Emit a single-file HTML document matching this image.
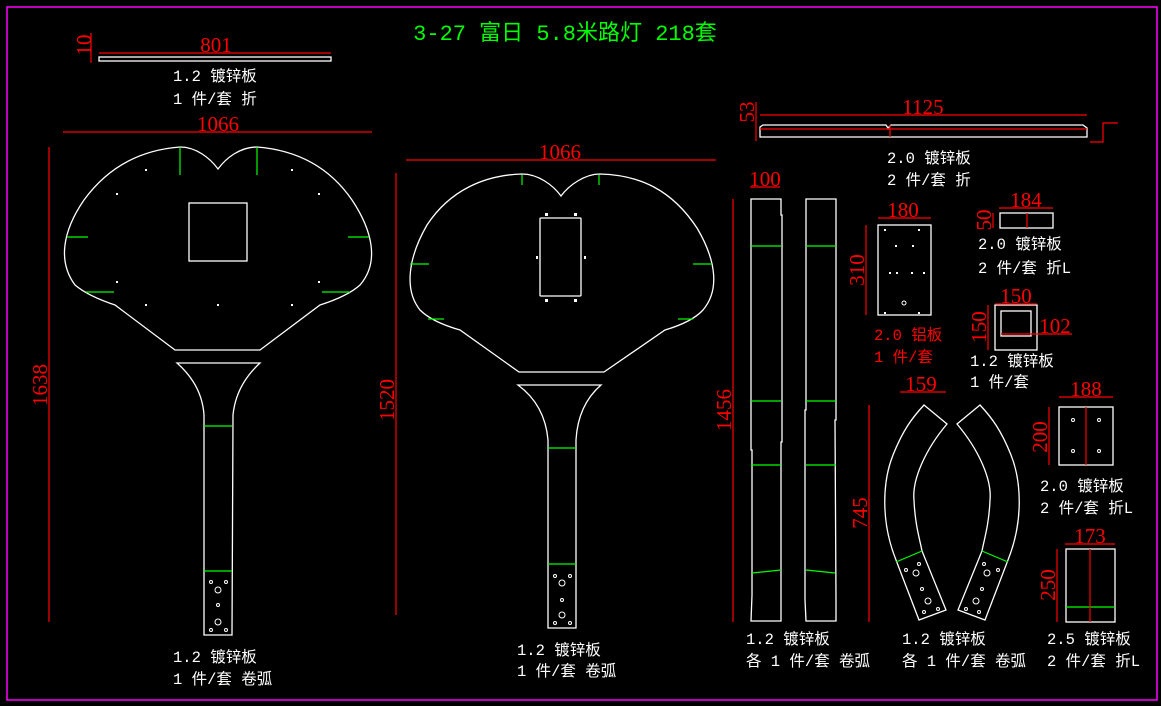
<!DOCTYPE html>
<html><head><meta charset="utf-8"><style>
html,body{margin:0;padding:0;background:#000;}
svg{display:block}
.w{fill:#fff;font-family:"Liberation Mono","Noto Sans CJK SC",monospace;font-size:15.5px}
.r{fill:#f00;font-family:"Liberation Serif",serif;font-size:21px}
.rw{fill:#f00;font-family:"Liberation Mono","Noto Sans CJK SC",monospace;font-size:15.5px}
</style></head><body>
<svg width="1161" height="706" viewBox="0 0 1161 706" xmlns="http://www.w3.org/2000/svg">
<rect x="7" y="7" width="1150" height="693" fill="none" stroke="#f0f" stroke-width="1.5"/>
<text x="565" y="40" text-anchor="middle" fill="#0f0" font-family="Liberation Mono,'Noto Sans CJK SC',monospace" font-size="22">3-27 富日 5.8米路灯 218套</text>

<g fill="none" stroke="#fff" stroke-width="1.3">
<rect x="99" y="57" width="232" height="4"/>
<path d="M175,350 L260,350 L320,305 Q348,296 360,285 C380,262 372,230 352,200 C328,165 295,150 257,147 C240,147 226,158 218,169 C210,158 196,147 180,147 C140,150 108,167 84,200 C62,232 58,262 75,285 Q88,296 115,305 Z"/>
<rect x="189" y="203" width="58" height="58"/>
<path d="M177,363 L260,363 Q236,385 233,415 L232,635 L204,635 L204,415 Q202,385 177,363 Z"/>
<path d="M519,372 L604,372 L665,330 Q692,322 703,310 C720,290 716,260 697,228 C672,190 640,175 600,174 C585,174 569,185 561,196 C553,185 538,174 522,174 C485,175 450,190 427,225 C408,258 404,290 420,310 Q432,322 460,330 Z"/>
<rect x="540" y="218" width="41" height="78" rx="1"/>
<path d="M518,385 L601,385 Q578,405 576,440 L576,628 L548,628 L548,440 Q545,405 518,385 Z"/>
<path d="M751,199 L781,199 L781,215 L782,215 L782,442 L781,442 L781,600 L781,621 L751,621 L752,595 L752,450 L751,450 Z"/>
<path d="M806,199 L836,199 L836,420 L835,420 L836,600 L836,621 L806,621 L805,600 L805,410 L806,410 Z"/>
<path d="M760,137 L760,127 L763,125 L886,125 L888,128 L891,125 L1083,125 L1087,128 L1087,137 Z"/>
<path d="M924,405 L947,424 C925,450 912,480 914,500 C915,525 920,540 922,551 L946,610 L919,620 L896,560 C880,520 883,480 893,455 C903,430 912,418 924,405 Z"/>
<path d="M980,405 L957,424 C979,450 992,480 990,500 C989,525 984,540 982,551 L958,610 L985,620 L1008,560 C1024,520 1021,480 1011,455 C1001,430 992,418 980,405 Z"/>
<rect x="878" y="225" width="53" height="90"/>
<rect x="1000" y="213" width="53" height="15"/>
<rect x="995" y="305" width="42" height="45"/>
<rect x="1001" y="311" width="30" height="25"/>
<rect x="1059" y="407" width="54" height="58"/>
<rect x="1066" y="549" width="49" height="73"/>
</g>

<g fill="none" stroke="#fff" stroke-width="1">
<circle cx="218" cy="590" r="3"/><circle cx="218" cy="622" r="3"/><circle cx="218" cy="605" r="1.5"/>
<circle cx="211" cy="582" r="1.5"/><circle cx="226" cy="582" r="1.5"/><circle cx="211" cy="630" r="1.5"/><circle cx="226" cy="630" r="1.5"/>
<circle cx="562" cy="583" r="3"/><circle cx="562" cy="615" r="3"/><circle cx="562" cy="600" r="1.5"/>
<circle cx="555" cy="576" r="1.5"/><circle cx="570" cy="576" r="1.5"/><circle cx="555" cy="623" r="1.5"/><circle cx="570" cy="623" r="1.5"/>
<circle cx="916" cy="573" r="3"/><circle cx="928" cy="601" r="3"/><circle cx="906" cy="570" r="1.5"/><circle cx="919" cy="564" r="1.5"/><circle cx="922" cy="589" r="1.5"/><circle cx="924" cy="612" r="1.5"/><circle cx="938" cy="609" r="1.5"/>
<circle cx="987" cy="573" r="3"/><circle cx="976" cy="601" r="3"/><circle cx="998" cy="570" r="1.5"/><circle cx="984" cy="564" r="1.5"/><circle cx="982" cy="589" r="1.5"/><circle cx="979" cy="612" r="1.5"/><circle cx="966" cy="609" r="1.5"/>
<circle cx="1073" cy="420" r="1.5"/><circle cx="1099" cy="420" r="1.5"/><circle cx="1073" cy="451" r="1.5"/><circle cx="1099" cy="451" r="1.5"/>
<circle cx="904" cy="303" r="2"/>
</g>
<g fill="#fff">
<rect x="145" y="169" width="2" height="2"/><rect x="291" y="169" width="2" height="2"/><rect x="116" y="193" width="2" height="2"/><rect x="318" y="193" width="2" height="2"/>
<rect x="116" y="281" width="2" height="2"/><rect x="318" y="281" width="2" height="2"/><rect x="145" y="304" width="2" height="2"/><rect x="217" y="304" width="2" height="2"/><rect x="291" y="304" width="2" height="2"/>
<rect x="545" y="213" width="3" height="3"/><rect x="574" y="213" width="3" height="3"/><rect x="536" y="256" width="2" height="3"/><rect x="584" y="256" width="2" height="3"/><rect x="545" y="299" width="3" height="3"/><rect x="574" y="299" width="3" height="3"/>
<rect x="884" y="229" width="2" height="2"/><rect x="918" y="229" width="2" height="2"/><rect x="889" y="272" width="2" height="2"/><rect x="896" y="272" width="2" height="2"/><rect x="911" y="272" width="2" height="2"/><rect x="923" y="272" width="2" height="2"/><rect x="884" y="312" width="2" height="2"/><rect x="918" y="312" width="2" height="2"/><rect x="895" y="245" width="2" height="2"/><rect x="912" y="245" width="2" height="2"/>
</g>

<g stroke="#0f0" stroke-width="1.2">
<line x1="180" y1="147" x2="180" y2="175"/><line x1="257" y1="147" x2="257" y2="175"/>
<line x1="67" y1="237" x2="88" y2="237"/><line x1="348" y1="237" x2="369" y2="237"/>
<line x1="86" y1="292" x2="114" y2="292"/><line x1="322" y1="292" x2="350" y2="292"/>
<line x1="204" y1="426" x2="232" y2="426"/><line x1="204" y1="571" x2="232" y2="571"/>
<line x1="522" y1="175" x2="522" y2="185"/><line x1="599" y1="175" x2="599" y2="185"/>
<line x1="410" y1="264" x2="429" y2="264"/><line x1="693" y1="264" x2="712" y2="264"/>
<line x1="428" y1="319" x2="444" y2="319"/><line x1="678" y1="319" x2="693" y2="319"/>
<line x1="548" y1="448" x2="576" y2="448"/><line x1="548" y1="564" x2="576" y2="564"/>
<line x1="751" y1="246" x2="781" y2="246"/><line x1="806" y1="246" x2="836" y2="246"/>
<line x1="751" y1="401" x2="781" y2="401"/><line x1="806" y1="401" x2="836" y2="401"/>
<line x1="751" y1="465" x2="781" y2="465"/><line x1="806" y1="465" x2="836" y2="465"/>
<line x1="752" y1="573" x2="781" y2="570"/><line x1="806" y1="570" x2="835" y2="573"/>
<line x1="896" y1="562" x2="922" y2="551"/><line x1="1008" y1="562" x2="982" y2="551"/>
<line x1="1066" y1="607" x2="1115" y2="607"/>
</g>

<g stroke="#f00" stroke-width="1.2">
<line x1="99" y1="53" x2="331" y2="53"/><line x1="91" y1="33" x2="91" y2="63"/>
<line x1="63" y1="132" x2="372" y2="132"/><line x1="49" y1="147" x2="49" y2="622"/>
<line x1="406" y1="160" x2="716" y2="160"/><line x1="396" y1="173" x2="396" y2="615"/>
<line x1="760" y1="115" x2="1087" y2="115"/><line x1="756" y1="102" x2="756" y2="141"/>
<line x1="760" y1="129" x2="1087" y2="129"/><line x1="890" y1="125" x2="890" y2="137"/>
<polyline points="1090,142 1103,142 1103,123 1118,123" fill="none"/>
<line x1="750" y1="187" x2="780" y2="187"/><line x1="733" y1="199" x2="733" y2="622"/>
<line x1="878" y1="218" x2="931" y2="218"/><line x1="866" y1="225" x2="866" y2="315"/>
<line x1="999" y1="208" x2="1053" y2="208"/><line x1="993" y1="213" x2="993" y2="228"/><line x1="1027" y1="213" x2="1027" y2="228"/>
<line x1="995" y1="304" x2="1037" y2="304"/><line x1="988" y1="305" x2="988" y2="350"/><line x1="1001" y1="334" x2="1072" y2="334"/>
<line x1="900" y1="392" x2="946" y2="392"/><line x1="869" y1="405" x2="869" y2="622"/>
<line x1="1059" y1="397" x2="1113" y2="397"/><line x1="1049" y1="407" x2="1049" y2="465"/><line x1="1086" y1="407" x2="1086" y2="465"/>
<line x1="1065" y1="544" x2="1115" y2="544"/><line x1="1057" y1="549" x2="1057" y2="622"/><line x1="1090" y1="549" x2="1090" y2="622"/>
</g>
<g class="r">
<text x="216" y="52" text-anchor="middle">801</text>
<text transform="translate(91,45) rotate(-90)" text-anchor="middle">10</text>
<text x="218" y="131" text-anchor="middle">1066</text>
<text transform="translate(47,385) rotate(-90)" text-anchor="middle">1638</text>
<text x="560" y="159" text-anchor="middle">1066</text>
<text transform="translate(394,400) rotate(-90)" text-anchor="middle">1520</text>
<text x="923" y="114" text-anchor="middle">1125</text>
<text transform="translate(754,112) rotate(-90)" text-anchor="middle">53</text>
<text x="765" y="186" text-anchor="middle">100</text>
<text transform="translate(731,410) rotate(-90)" text-anchor="middle">1456</text>
<text x="903" y="217" text-anchor="middle">180</text>
<text transform="translate(864,270) rotate(-90)" text-anchor="middle">310</text>
<text x="1026" y="207" text-anchor="middle">184</text>
<text transform="translate(991,220) rotate(-90)" text-anchor="middle">50</text>
<text x="1016" y="303" text-anchor="middle">150</text>
<text transform="translate(986,327) rotate(-90)" text-anchor="middle">150</text>
<text x="1055" y="333" text-anchor="middle">102</text>
<text x="921" y="391" text-anchor="middle">159</text>
<text transform="translate(867,513) rotate(-90)" text-anchor="middle">745</text>
<text x="1086" y="396" text-anchor="middle">188</text>
<text transform="translate(1047,437) rotate(-90)" text-anchor="middle">200</text>
<text x="1090" y="543" text-anchor="middle">173</text>
<text transform="translate(1055,585) rotate(-90)" text-anchor="middle">250</text>
</g>

<g class="w">
<text x="173" y="81">1.2 镀锌板</text><text x="173" y="104">1 件/套 折</text>
<text x="887" y="163">2.0 镀锌板</text><text x="887" y="185">2 件/套 折</text>
<text x="978" y="249">2.0 镀锌板</text><text x="978" y="273">2 件/套 折L</text>
<text x="970" y="366">1.2 镀锌板</text><text x="970" y="387">1 件/套</text>
<text x="1040" y="491">2.0 镀锌板</text><text x="1040" y="513">2 件/套 折L</text>
<text x="1047" y="644">2.5 镀锌板</text><text x="1047" y="666">2 件/套 折L</text>
<text x="902" y="644">1.2 镀锌板</text><text x="902" y="666">各 1 件/套 卷弧</text>
<text x="746" y="644">1.2 镀锌板</text><text x="746" y="666">各 1 件/套 卷弧</text>
<text x="173" y="662">1.2 镀锌板</text><text x="173" y="684">1 件/套 卷弧</text>
<text x="517" y="655">1.2 镀锌板</text><text x="517" y="676">1 件/套 卷弧</text>
</g>
<g class="rw"><text x="874" y="340">2.0 铝板</text><text x="874" y="362">1 件/套</text></g>
</svg>
</body></html>
